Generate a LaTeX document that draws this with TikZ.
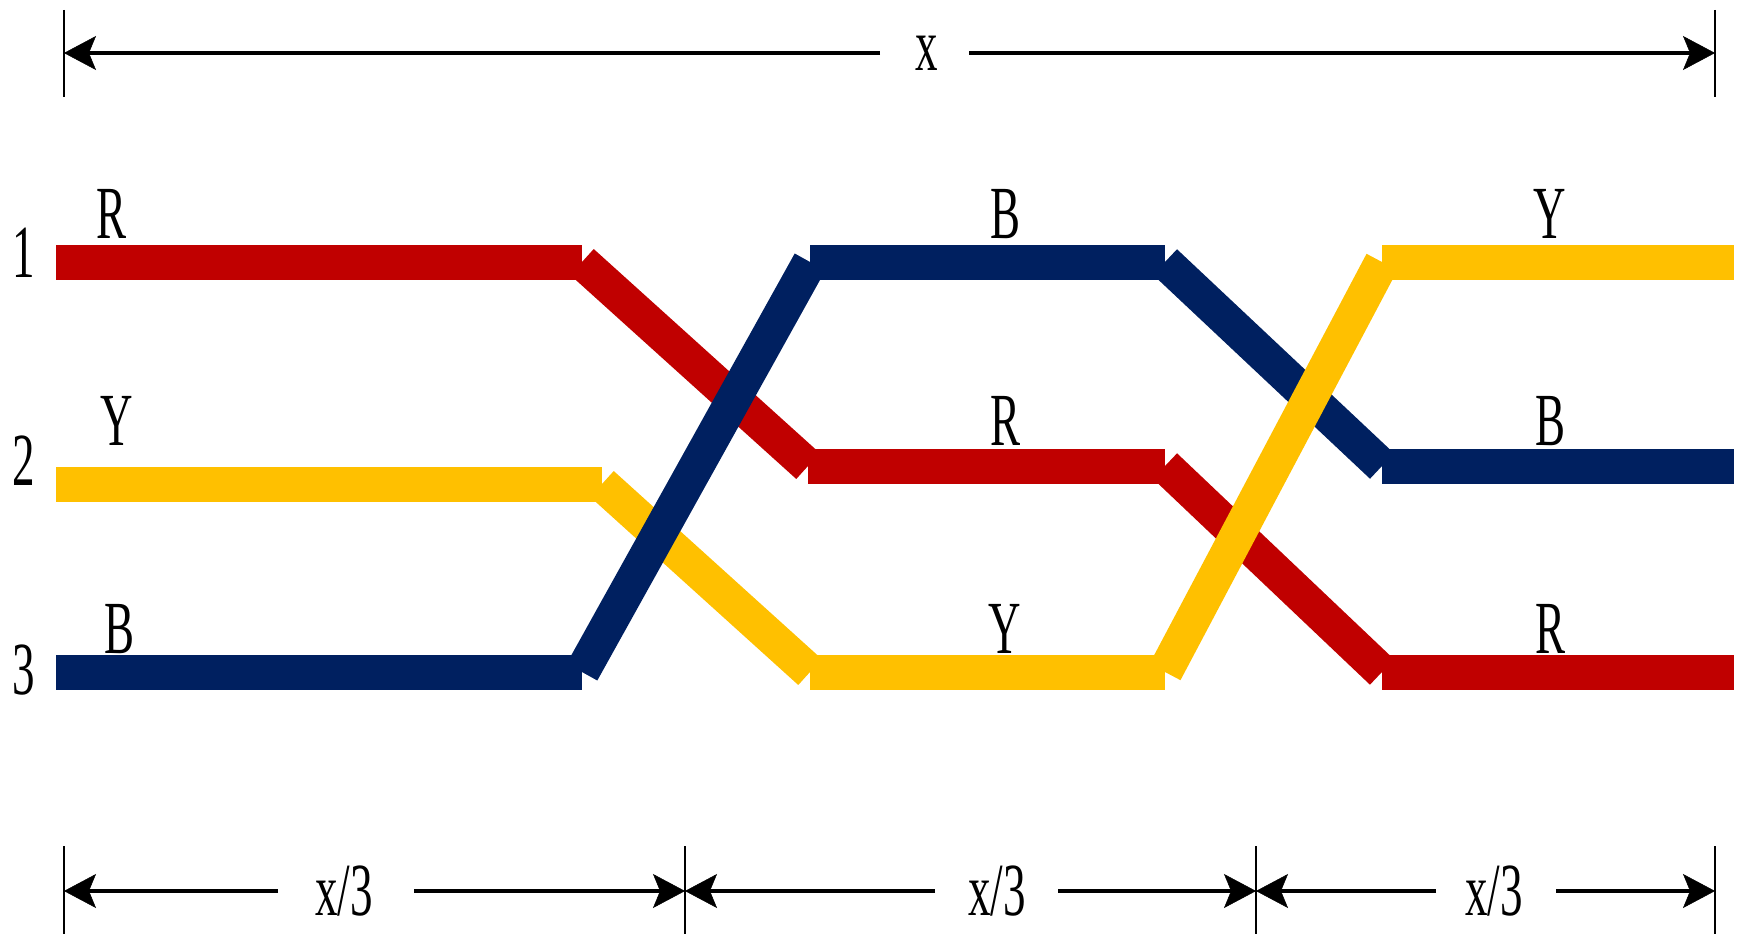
\documentclass[tikz,border=0pt]{standalone}
\usepackage{fontspec}
\setmainfont{Liberation Serif}[FakeStretch=0.6]
\usetikzlibrary{arrows.meta}
\definecolor{cred}{HTML}{C00000}
\definecolor{cyel}{HTML}{FFC000}
\definecolor{cblu}{HTML}{002060}
\begin{document}
\begin{tikzpicture}[x=1pt,y=-1pt,
  band/.style={line width=35pt,line cap=butt},
  dim/.style={line width=4.2pt,-{Stealth[length=32pt,width=34pt,inset=7pt,line width=0.5pt,fill=black]}},
  tick/.style={line width=2.6pt},
  lab/.style={inner sep=0pt,font=\fontsize{75}{75}\selectfont},
  blab/.style={lab,anchor=base}]
\useasboundingbox (0,0) rectangle (1746,934);
% coordinates of bands
\coordinate (r0) at (56,262);   \coordinate (r1) at (582,262);
\coordinate (r2) at (808,466);  \coordinate (r3) at (1165,466);
\coordinate (r4) at (1382,672); \coordinate (r5) at (1734,672);
\coordinate (y0) at (56,484);   \coordinate (y1) at (602,484);
\coordinate (y2) at (810,672);  \coordinate (y3) at (1165,672);
\coordinate (y4) at (1382,262); \coordinate (y5) at (1734,262);
\coordinate (b0) at (56,672);   \coordinate (b1) at (582,672);
\coordinate (b2) at (810,262);  \coordinate (b3) at (1165,262);
\coordinate (b4) at (1382,466); \coordinate (b5) at (1734,466);
% horizontal segments
\draw[band,cred] (r0) -- (r1);
\draw[band,cred] (r2) -- (r3);
\draw[band,cred] (r4) -- (r5);
\draw[band,cyel] (y0) -- (y1);
\draw[band,cyel] (y2) -- (y3);
\draw[band,cyel] (y4) -- (y5);
\draw[band,cblu] (b0) -- (b1);
\draw[band,cblu] (b2) -- (b3);
\draw[band,cblu] (b4) -- (b5);
% first transition
\draw[band,cred] (r1) -- (r2);
\draw[band,cyel] (y1) -- (y2);
\draw[band,cblu] (b1) -- (b2);
% second transition
\draw[band,cred] (r3) -- (r4);
\draw[band,cblu] (b3) -- (b4);
\draw[band,cyel] (y3) -- (y4);
% row numbers
\node[lab] (n1) at (24,253) {1};
\node[lab] (n2) at (24,461) {2};
\node[lab] (n3) at (24,670) {3};
% colour letters
\node[blab] (l1) at (112,238) {R};
\node[blab] (l2) at (117,445) {Y};
\node[blab] (l3) at (120,653) {B};
\node[blab] (m1) at (1005,238) {B};
\node[blab] (m2) at (1005,445) {R};
\node[blab] (m3) at (1005,653) {Y};
\node[blab] (k1) at (1550,238) {Y};
\node[blab] (k2) at (1550,445) {B};
\node[blab] (k3) at (1550,653) {R};
% top dimension
\coordinate (tA) at (64,53);  \coordinate (tB) at (1715,53);
\coordinate (tA1) at (64,10); \coordinate (tA2) at (64,97);
\coordinate (tB1) at (1715,10); \coordinate (tB2) at (1715,97);
\draw[tick] (tA1) -- (tA2);
\draw[tick] (tB1) -- (tB2);
\coordinate (tg1) at (880,53); \coordinate (tg2) at (969,53);
\node[lab] (xl) at (927,53) {x};
\draw[dim] (tg1) -- (tA);
\draw[dim] (tg2) -- (tB);
% bottom dimensions
\coordinate (d0) at (64,891);  \coordinate (d1) at (685,891);
\coordinate (d2) at (1256,891); \coordinate (d3) at (1715,891);
\foreach \i/\xx in {0/64,1/685,2/1256,3/1715}{
  \coordinate (dt\i a) at (\xx,846);
  \coordinate (dt\i b) at (\xx,934);
  \draw[tick] (dt\i a) -- (dt\i b);
}
\coordinate (g1) at (278,891);  \coordinate (g2) at (414,891);
\coordinate (g3) at (935,891);  \coordinate (g4) at (1058,891);
\coordinate (g5) at (1436,891); \coordinate (g6) at (1556,891);
\node[lab] (x1) at (344,891) {x/3};
\node[lab] (x2) at (997,891) {x/3};
\node[lab] (x3) at (1494,891) {x/3};
\draw[dim] (g1) -- (d0);
\draw[dim] (g2) -- (d1);
\draw[dim] (g3) -- (d1);
\draw[dim] (g4) -- (d2);
\draw[dim] (g5) -- (d2);
\draw[dim] (g6) -- (d3);
\end{tikzpicture}
\end{document}
